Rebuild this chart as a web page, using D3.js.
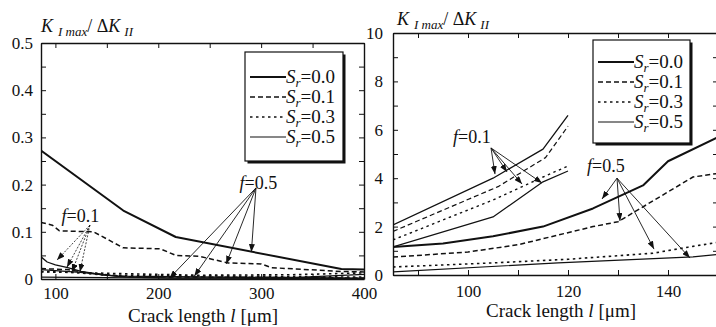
<!DOCTYPE html>
<html><head><meta charset="utf-8">
<script src="https://cdnjs.cloudflare.com/ajax/libs/d3/7.8.5/d3.min.js"></script>
<style>body{margin:0;background:#fff}</style>
</head><body><svg id="c" width="716" height="327"></svg>
<script>
// ---------- data ----------
const srLabels = ["0.0", "0.1", "0.3", "0.5"];

// left panel (x: crack length um, y: K_Imax/dK_II)
const leftXTicksLabelled = [100, 200, 300, 400];
const leftXTicksAll = [100, 150, 200, 250, 300, 350, 400];
const leftYTicksLabelled = [0, 0.1, 0.2, 0.3, 0.4, 0.5];
const leftYTicksAll = [0, 0.05, 0.1, 0.15, 0.2, 0.25, 0.3, 0.35, 0.4, 0.45, 0.5];

const leftF05Sr00 = [[86,0.272],[166,0.145],[217,0.089],[378,0.021],[400,0.02]];
const leftF05Sr01 = [[86,0.12],[97,0.114],[104,0.102],[137,0.1],[166,0.066],[202,0.064],[217,0.05],[240,0.048],[268,0.034],[300,0.032],[310,0.024],[378,0.016],[400,0.015]];
const leftF05Sr03 = [[86,0.016],[150,0.012],[237,0.008],[330,0.009],[400,0.013]];
const leftF05Sr05 = [[86,0.004],[212,0.002],[330,0.003],[400,0.01]];
const leftF01Sr00 = [[86,0.047],[92,0.036],[100,0.03],[112,0.024],[125,0.016],[145,0.009],[170,0.004],[220,0.002],[400,0.001]];
const leftF01Sr01 = [[86,0.022],[111,0.02],[135,0.012],[170,0.005],[400,0.002]];
const leftF01Sr03 = [[86,0.015],[116,0.014],[150,0.008],[400,0.004]];
const leftF01Sr05 = [[86,0.02],[124,0.014],[160,0.006],[400,0.002]];

// right panel
const rightXTicksLabelled = [100, 120, 140];
const rightXTicksAll = [90, 100, 110, 120, 130, 140, 150];
const rightYTicksLabelled = [0, 2, 4, 6, 8, 10];
const rightYTicksAll = [0,1,2,3,4,5,6,7,8,9,10];

const rightF01Sr00 = [[85,2.07],[105,4.0],[115,5.2],[120,6.6]];
const rightF01Sr01 = [[85,1.8],[106,3.65],[115.5,4.85],[120,6.15]];
const rightF01Sr03 = [[85,1.45],[105,3.1],[115,4.05],[120,4.5]];
const rightF01Sr05 = [[85,1.16],[105,2.4],[115,3.85],[120,4.3]];
const rightF05Sr00 = [[85,1.16],[95,1.3],[105,1.6],[115,2.0],[125,2.75],[135,3.7],[140,4.7],[150,5.7]];
const rightF05Sr01 = [[85,0.74],[100,0.95],[110,1.25],[125,2.0],[130,2.2],[145,4.05],[150,4.2]];
const rightF05Sr03 = [[85,0.33],[105,0.5],[120,0.65],[137,0.9],[144,1.15],[150,1.35]];
const rightF05Sr05 = [[85,0.13],[118,0.5],[145,0.75],[150,0.85]];

// annotations: label, apex, arrow tips (data units)
const leftAnnF05 = {f:"0.5", text:[279,0.19], apex:[295,0.193], tips:[[290.5,0.057],[266,0.032],[235,0.006],[211,0.002]]};
const leftAnnF01 = {f:"0.1", text:[106,0.121], apex:[133.5,0.114], tips:[[101.5,0.04],[111.2,0.025],[116,0.015],[123.8,0.015]]};
const rightAnnF01 = {f:"0.1", text:[97,5.45], apex:[104.6,5.25], tips:[[105.4,4.17],[107.8,4.26],[110.8,3.76],[114.8,3.8]]};
const rightAnnF05 = {f:"0.5", text:[123.8,4.26], apex:[129.8,4.0], tips:[[126.8,3.14],[130.4,2.23],[137.2,1.07],[144.4,0.7]]};

// ---------- drawing ----------
const ink = "#111";
const FAM = "Liberation Serif";
const svg = d3.select("#c").attr("font-family", FAM);
const defs = svg.append("defs");
defs.append("marker").attr("id","arr").attr("viewBox","0 0 8 6").attr("refX",8).attr("refY",3)
  .attr("markerWidth",8).attr("markerHeight",6).attr("markerUnits","userSpaceOnUse").attr("orient","auto")
  .append("path").attr("d","M0,0L8,3L0,6z").attr("fill",ink);

const styles = [
  {dash:null, w:2.0},
  {dash:"5,3", w:1.5},
  {dash:"2.5,3.5", w:1.6},
  {dash:null, w:1.2}
];

function setFont(sel, size, italic){
  sel.attr("font-family", FAM).style("font-family", `"${FAM}"`);
  if (size) sel.attr("font-size", size).style("font-size", size + "px");
  if (italic) sel.attr("font-style","italic").style("font-style","italic");
  return sel;
}
function txt(sel, x, y, size){
  return setFont(sel.append("text").attr("x",x).attr("y",y).attr("fill",ink), size);
}
function span(t, s, size, italic){
  return setFont(t.append("tspan"), size, italic).text(s);
}

function panel(cfg){
  const g = svg.append("g");
  const x = d3.scaleLinear(cfg.xd, cfg.xr);
  const y = d3.scaleLinear(cfg.yd, cfg.yr);
  const id = "clip"+cfg.name;
  defs.append("clipPath").attr("id",id).append("rect")
    .attr("x",cfg.xr[0]).attr("y",cfg.yr[1]).attr("width",cfg.xr[1]-cfg.xr[0]).attr("height",cfg.yr[0]-cfg.yr[1]);

  const styleAxis = sel => {
    sel.attr("font-family",FAM).attr("font-size",17);
    sel.selectAll("path.domain").attr("stroke",ink).attr("stroke-width",1.4);
    sel.selectAll(".tick line").attr("stroke",ink).attr("stroke-width",1);
    setFont(sel.selectAll("text"), 17).attr("fill",ink);
  };
  g.append("g").attr("transform",`translate(0,${cfg.yr[0]})`)
    .call(d3.axisBottom(x).tickValues(cfg.xAll).tickSize(-5).tickSizeOuter(0).tickPadding(cfg.xPad)
      .tickFormat(d => cfg.xLab.includes(d) ? d : ""))
    .call(styleAxis);
  g.append("g").attr("transform",`translate(0,${cfg.yr[1]})`)
    .call(d3.axisTop(x).tickValues(cfg.xAll).tickSize(-5).tickSizeOuter(0).tickFormat(""))
    .call(styleAxis);
  g.append("g").attr("transform",`translate(${cfg.xr[0]},0)`)
    .call(d3.axisLeft(y).tickValues(cfg.yAll).tickSize(-5).tickSizeOuter(0).tickPadding(cfg.yPad)
      .tickFormat(d => cfg.yLab.some(v=>Math.abs(v-d)<1e-9) ? cfg.yFmt(d) : ""))
    .call(styleAxis);
  g.append("g").attr("transform",`translate(${cfg.xr[1]},0)`)
    .call(d3.axisRight(y).tickValues(cfg.yAll).tickSize(-5).tickSizeOuter(0).tickFormat(""))
    .call(styleAxis);

  const line = d3.line().x(d=>x(d[0])).y(d=>y(d[1]));
  const cg = g.append("g").attr("clip-path",`url(#${id})`);
  cfg.series.forEach(s => {
    const st = styles[s.sr];
    cg.append("path").datum(s.data).attr("d",line).attr("fill","none").attr("stroke",ink)
      .attr("stroke-width", s.w || st.w).attr("stroke-dasharray", st.dash).attr("stroke-linejoin","round");
  });

  // annotations
  cfg.ann.forEach(a => {
    a.tips.forEach(t => {
      g.append("line").attr("x1",x(a.apex[0])).attr("y1",y(a.apex[1])).attr("x2",x(t[0])).attr("y2",y(t[1]))
        .attr("stroke",ink).attr("stroke-width",a.dotted?0.8:0.9).attr("stroke-dasharray",a.dotted?"2,1.5":null)
        .attr("marker-end","url(#arr)");
    });
    const t = txt(g, x(a.text[0]), y(a.text[1]), 18);
    span(t, "f", 18, true);
    span(t, "=" + a.f, 18, false);
  });

  // legend
  const L = cfg.legend;
  g.append("rect").attr("x",L.x+2.5).attr("y",L.y+2.5).attr("width",L.w).attr("height",L.h).attr("fill",ink);
  g.append("rect").attr("x",L.x).attr("y",L.y).attr("width",L.w).attr("height",L.h).attr("fill","#fff").attr("stroke",ink).attr("stroke-width",1.2);
  srLabels.forEach((lab,i) => {
    const yy = L.y0 + i*L.dy;
    const st = styles[i];
    g.append("line").attr("x1",L.x+5).attr("x2",L.x+41).attr("y1",yy).attr("y2",yy)
      .attr("stroke",ink).attr("stroke-width",st.w).attr("stroke-dasharray",st.dash);
    const t = txt(g, L.x+41, yy+6, 19);
    span(t, "S", 19, true);
    span(t, "r", 13, true).attr("dy",4);
    span(t, "=" + lab, 19, false).attr("dy",-4);
  });

  // y title
  const yt = txt(g, cfg.yTitle[0], cfg.yTitle[1], 18);
  span(yt, "K", 18, true);
  span(yt, "I max", 13, true).attr("dx",5).attr("dy",4);
  span(yt, "/ Δ", 18, false).attr("dy",-4);
  span(yt, "K", 18, true);
  span(yt, "II", 13, true).attr("dx",4).attr("dy",4);

  // x title
  const xt = txt(g, cfg.xTitle[0], cfg.xTitle[1], 19).attr("text-anchor","middle");
  span(xt, "Crack length ", 19, false);
  span(xt, "l", 19, true);
  span(xt, "  [μm]", 19, false);
}

panel({
  name:"L", xd:[86,400], xr:[41,364], yd:[0,0.5], yr:[279,43],
  xAll:leftXTicksAll, xLab:leftXTicksLabelled, xPad:8,
  yAll:leftYTicksAll, yLab:leftYTicksLabelled, yPad:8, yFmt:d=> d===0 ? "0" : d3.format(".1f")(d),
  series:[
    {sr:0,data:leftF05Sr00},{sr:1,data:leftF05Sr01},{sr:2,data:leftF05Sr03},{sr:3,data:leftF05Sr05},
    {sr:0,data:leftF01Sr00,w:1.3},{sr:1,data:leftF01Sr01},{sr:2,data:leftF01Sr03},{sr:3,data:leftF01Sr05}
  ],
  ann:[Object.assign({dotted:false},leftAnnF05), Object.assign({dotted:true},leftAnnF01)],
  legend:{x:245,y:52,w:98,h:109,y0:77,dy:20},
  yTitle:[41,32], xTitle:[203,322]
});

panel({
  name:"R", xd:[85,150], xr:[393,718], yd:[0,10], yr:[275,33],
  xAll:rightXTicksAll, xLab:rightXTicksLabelled, xPad:10,
  yAll:rightYTicksAll, yLab:rightYTicksLabelled, yPad:10, yFmt:d=>d,
  series:[
    {sr:0,data:rightF01Sr00,w:1.3},{sr:1,data:rightF01Sr01,w:1.2},{sr:2,data:rightF01Sr03,w:1.4},{sr:3,data:rightF01Sr05},
    {sr:0,data:rightF05Sr00},{sr:1,data:rightF05Sr01},{sr:2,data:rightF05Sr03},{sr:3,data:rightF05Sr05}
  ],
  ann:[Object.assign({dotted:false},rightAnnF01), Object.assign({dotted:false},rightAnnF05)],
  legend:{x:593,y:40,w:97,h:103,y0:62,dy:20},
  yTitle:[397,25], xTitle:[561,317]
});
</script></body></html>
